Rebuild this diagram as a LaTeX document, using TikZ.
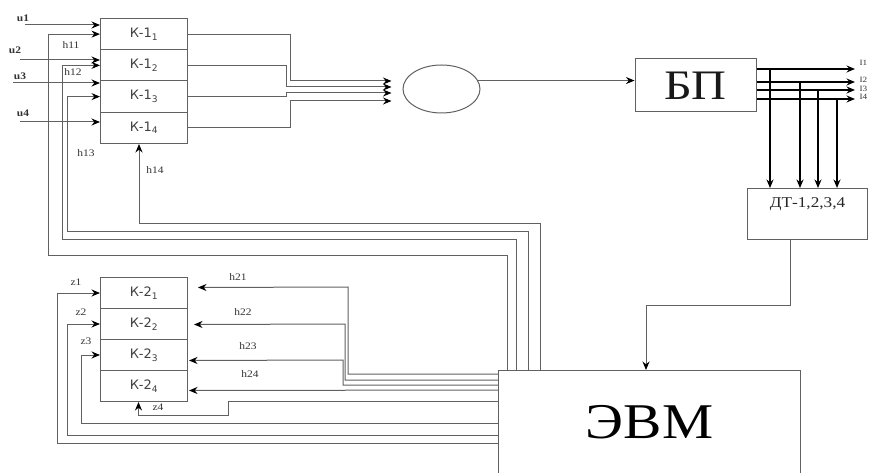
\documentclass[tikz,border=0pt]{standalone}
\usepackage{fontspec}
\setmainfont{Liberation Serif}[FakeStretch=1.15]
\newfontfamily\kfont{DejaVu Sans}
\usetikzlibrary{arrows.meta,shapes.geometric}

\tikzset{
  blok/.style={draw,rectangle,anchor=north west,minimum width=87pt,minimum height=31pt,
    font=\kfont\fontsize{13}{13}\selectfont,text=black!75},
  sig/.style={font=\fontsize{10}{10}\selectfont,text=black!80},
  usig/.style={font=\bfseries\fontsize{10}{10}\selectfont,text=black!80},
  bus/.style={black,line width=1.4pt},
}

\begin{document}
\begin{tikzpicture}[->,>={Stealth[length=8.5pt,width=7pt,black]},x=1pt,y=-1pt,
    line width=1pt,color=black!62,every node/.style={inner sep=0}]
  \useasboundingbox (0,0) rectangle (872,473);

  % блок К-1
  \node[blok,minimum height=31.25pt] (k11) at (100,18) {К-1\textsubscript{1}};
  \node[blok,minimum height=31.25pt] (k12) at (100,49.25) {К-1\textsubscript{2}};
  \node[blok,minimum height=31.25pt] (k13) at (100,80.5) {К-1\textsubscript{3}};
  \node[blok,minimum height=31.25pt] (k14) at (100,111.75) {К-1\textsubscript{4}};

  % блок К-2
  \node[blok] (k21) at (100,277) {К-2\textsubscript{1}};
  \node[blok] (k22) at (100,308) {К-2\textsubscript{2}};
  \node[blok] (k23) at (100,339) {К-2\textsubscript{3}};
  \node[blok] (k24) at (100,370) {К-2\textsubscript{4}};

  \node[draw,ellipse,minimum width=77pt,minimum height=48pt] (oval) at (441.5,89) {};
  \node[draw,rectangle,minimum width=121pt,minimum height=53pt,
    font=\fontsize{42}{42}\selectfont,text=black!90] (bp) at (695.5,85.5) {БП};
  \node[draw,rectangle,anchor=north west,minimum width=120pt,minimum height=51pt,
    label={[anchor=north,yshift=-9pt,font=\fontsize{15}{15}\selectfont,text=black!85]north:ДТ-1,2,3,4}]
    (dt) at (747,188) {};
  \node[draw,rectangle,anchor=north west,minimum width=302pt,minimum height=103pt,
    font=\fontsize{50}{50}\selectfont,text=black] (evm) at (498,370) {ЭВМ};

  % входы u
  \coordinate (u1) at (25,25);
  \coordinate (u2) at (20,60);
  \coordinate (u3) at (13,83);
  \coordinate (u4) at (20,122);
  \draw (u1) -- (u1 -| k11.west);
  \draw (u2) -- (u2 -| k12.west);
  \draw (u3) -- (u3 -| k13.west);
  \draw (u4) -- (u4 -| k14.west);
  \node[usig] (lu1) at (23,18) {u1};
  \node[usig] (lu2) at (15,50) {u2};
  \node[usig] (lu3) at (20,76) {u3};
  \node[usig] (lu4) at (23,113) {u4};

  % h11..h14 от ЭВМ
  \coordinate (a11) at (48,255);
  \coordinate (a12) at (62,239);
  \coordinate (a13) at (67,231);
  \coordinate (a14) at (139,223);
  \draw ([xshift=9pt]evm.north west) |- (a11) |- (k11.west);
  \draw ([xshift=18pt]evm.north west) |- (a12) |- (k12.west);
  \draw ([xshift=30pt]evm.north west) |- (a13) |- (k13.west);
  \draw ([xshift=42pt]evm.north west) |- (a14) -- (a14 |- k14.south);
  \node[sig] (lh11) at (71,45) {h11};
  \node[sig] (lh12) at (73,72) {h12};
  \node[sig] (lh13) at (86,153) {h13};
  \node[sig] (lh14) at (155,170) {h14};

  % выходы К-1
  \coordinate (o1) at (290,81);
  \coordinate (o2) at (286,87);
  \coordinate (o3) at (286,93);
  \coordinate (o4) at (290,101);
  \draw (k11.east) -| (o1) -- ([xshift=-11pt,yshift=8pt]oval.west);
  \draw (k12.east) -| (o2) -- ([xshift=-11pt,yshift=2pt]oval.west);
  \draw (k13.east) -| (o3) -- ([xshift=-11pt,yshift=-4pt]oval.west);
  \draw (k14.east) -| (o4) -- ([xshift=-11pt,yshift=-12pt]oval.west);

  \draw (oval.13) -- (oval.13 -| bp.west);

  % токи I1..I4
  \coordinate (q1) at (855,69);
  \coordinate (q2) at (855,82);
  \coordinate (q3) at (855,90);
  \coordinate (q4) at (855,99);
  \draw[bus] (bp.east |- q1) -- (q1);
  \draw[bus] (bp.east |- q2) -- (q2);
  \draw[bus] (bp.east |- q3) -- (q3);
  \draw[bus] (bp.east |- q4) -- (q4);
  \node[sig,anchor=west,font=\fontsize{8}{8}\selectfont] (i1) at (859,63) {I1};
  \node[sig,anchor=west,font=\fontsize{8}{8}\selectfont] (i2) at (859,80) {I2};
  \node[sig,anchor=west,font=\fontsize{8}{8}\selectfont] (i3) at (859,88.5) {I3};
  \node[sig,anchor=west,font=\fontsize{8}{8}\selectfont] (i4) at (859,97) {I4};

  \coordinate (d1) at ([xshift=23pt]dt.north west);
  \coordinate (d2) at ([xshift=53pt]dt.north west);
  \coordinate (d3) at ([xshift=71pt]dt.north west);
  \coordinate (d4) at ([xshift=90pt]dt.north west);
  \draw[bus] (d1 |- q1) -- (d1);
  \draw[bus] (d2 |- q2) -- (d2);
  \draw[bus] (d3 |- q3) -- (d3);
  \draw[bus] (d4 |- q4) -- (d4);

  \coordinate (m1) at (646,305);
  \draw ([xshift=-17pt]dt.south) |- (m1) -- (m1 |- evm.north);

  % h21..h24 к К-2
  \coordinate (g1) at (348,287);
  \coordinate (g2) at (345,324);
  \coordinate (g3) at (343,360);
  \draw ([yshift=-4pt]evm.north west) -| (g1) -- ([xshift=10pt,yshift=5.5pt]k21.east);
  \draw ([yshift=-10pt]evm.north west) -| (g2) -- ([xshift=6pt,yshift=-0.5pt]k22.east);
  \draw ([yshift=-15pt]evm.north west) -| (g3) -- ([xshift=1pt,yshift=-5.5pt]k23.east);
  \draw ([yshift=-20pt]evm.north west) -- ([xshift=1pt,yshift=-4.5pt]k24.east);
  \node[sig] (lh21) at (238,277) {h21};
  \node[sig] (lh22) at (243,312) {h22};
  \node[sig] (lh23) at (248,346) {h23};
  \node[sig] (lh24) at (250,374) {h24};

  % z1..z4
  \coordinate (f1) at (57,443);
  \coordinate (f2) at (67,435);
  \coordinate (f3) at (81,423);
  \coordinate (w1) at (228,415);
  \draw ([yshift=-73pt]evm.north west) -- (f1) |- (k21.west);
  \draw ([yshift=-65pt]evm.north west) -- (f2) |- (k22.west);
  \draw ([yshift=-53pt]evm.north west) -- (f3) |- (k23.west);
  \draw ([yshift=-31pt]evm.north west) -| (w1) -| ([xshift=-5.5pt]k24.south);
  \node[sig] (lz1) at (76,282) {z1};
  \node[sig] (lz2) at (81,312) {z2};
  \node[sig] (lz3) at (86,341) {z3};
  \node[sig] (lz4) at (158,407) {z4};
\end{tikzpicture}
\end{document}
